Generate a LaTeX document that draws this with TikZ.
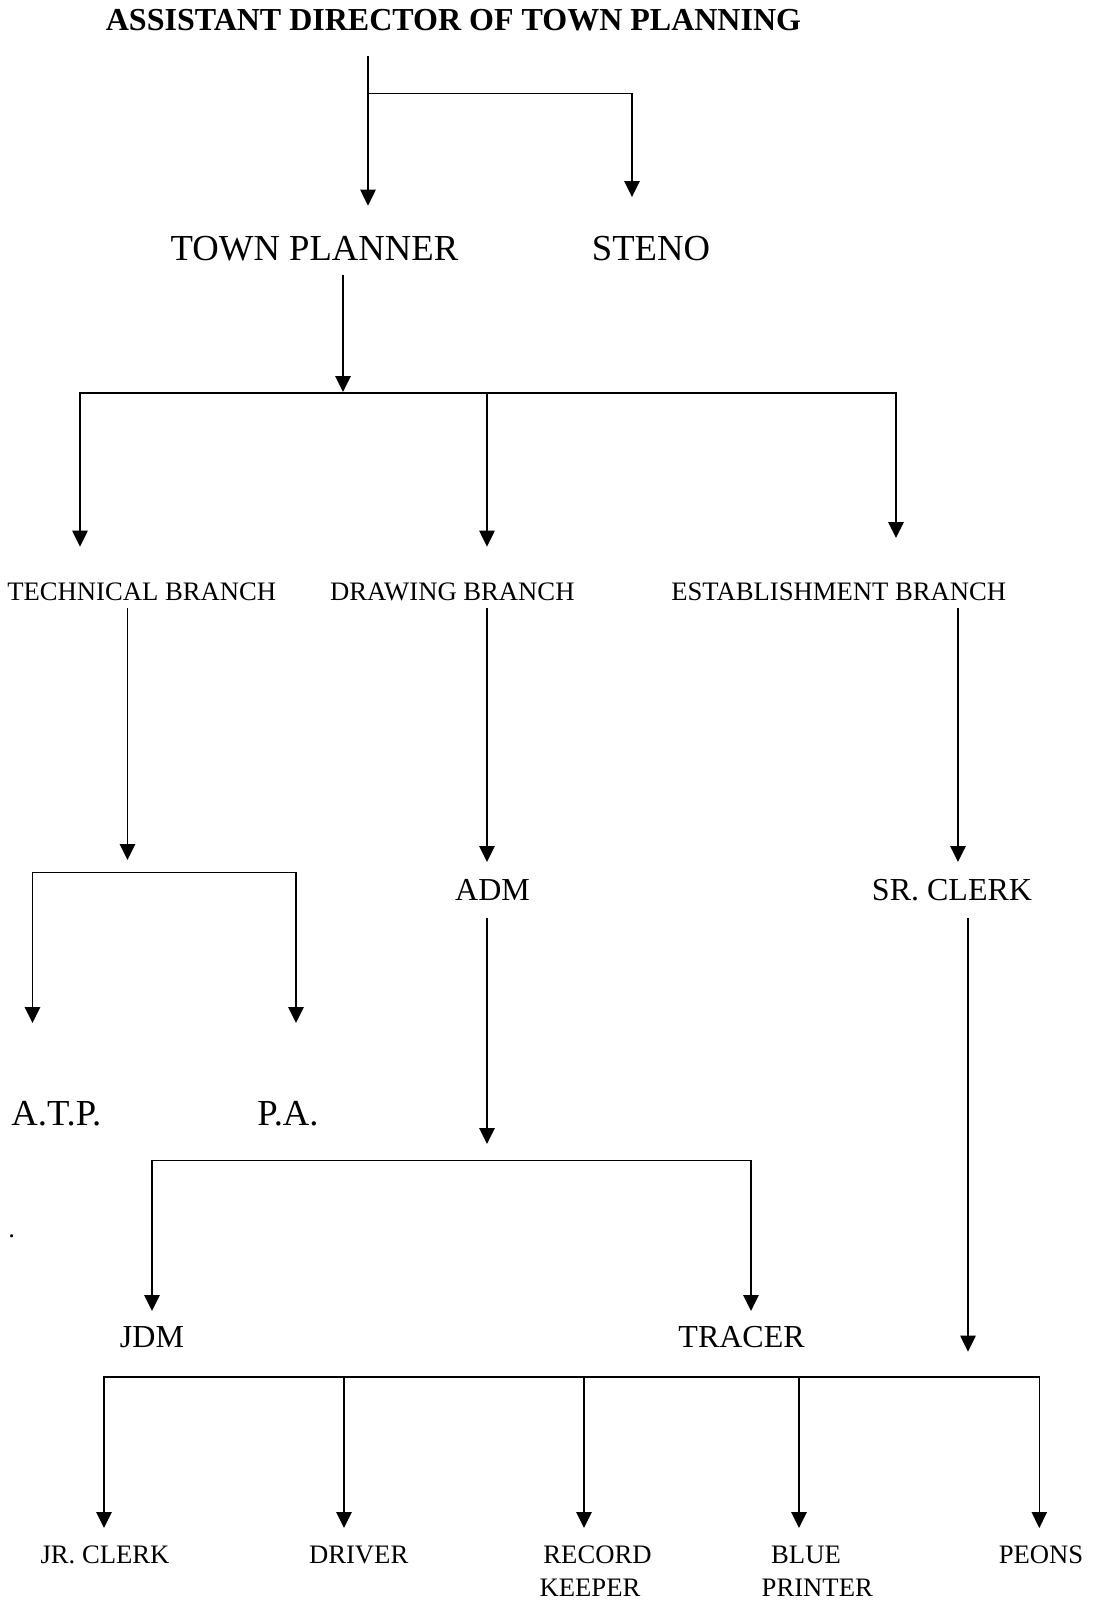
\documentclass[tikz,border=0pt]{standalone}
\usepackage{fontspec}
\setmainfont{Liberation Serif}
\usetikzlibrary{arrows.meta}
\begin{document}
\begin{tikzpicture}[x=0.75pt,y=-0.75pt,
  lbl/.style={inner sep=0pt, outer sep=0pt, anchor=base},
  ttl/.style={lbl, font=\fontsize{24}{28}\selectfont\bfseries},
  big/.style={lbl, font=\fontsize{27.5}{32}\selectfont},
  mid/.style={lbl, font=\fontsize{24}{28}\selectfont},
  sml/.style={lbl, font=\fontsize{20}{24}\selectfont},
  conn/.style={line width=1.2pt},
  arr/.style={conn, -{Triangle[length=12pt,width=11.5pt]}}]
\useasboundingbox (0,0) rectangle (1094,1600);

% labels
\node[ttl] (adtp) at (453.5,30) {ASSISTANT DIRECTOR OF TOWN PLANNING};
\node[big] (tp) at (314.5,260) {TOWN PLANNER};
\node[big] (steno) at (651,260) {STENO};
\node[sml] (tech) at (141.7,600) {TECHNICAL BRANCH};
\node[sml] (drw) at (452.3,600) {DRAWING BRANCH};
\node[sml] (est) at (838.8,600) {ESTABLISHMENT BRANCH};
\node[mid] (adm) at (492.5,900) {ADM};
\node[mid] (src) at (952,900) {SR. CLERK};
\node[big] (atp) at (56.4,1125) {A.T.P.};
\node[big] (pa) at (288,1125) {P.A.};
\node[sml] (dot) at (11.7,1237) {.};
\node[mid] (jdm) at (152,1347.5) {JDM};
\node[mid] (tracer) at (741.6,1347.5) {TRACER};
\node[sml] (jrc) at (105,1563) {JR. CLERK};
\node[sml] (driver) at (358.7,1563) {DRIVER};
\node[sml] (recA) at (597.5,1563) {RECORD};
\node[sml] (recB) at (590,1596.5) {KEEPER};
\node[sml] (blueA) at (806,1563) {BLUE};
\node[sml] (blueB) at (817.3,1596.5) {PRINTER};
\node[sml] (peons) at (1041,1563) {PEONS};

% connector points
\coordinate (a0) at (368,56);
\coordinate (a1) at (368,205.7);
\coordinate (aj) at (368,93.3);
\coordinate (sTip) at (632,197);

\coordinate (t0) at (343,275);
\coordinate (t1) at (343,392);
\coordinate (bM) at (487,393);
\coordinate (techTip) at (80,546.7);
\coordinate (drwTip) at (487,546.7);
\coordinate (estTip) at (896,538);

\coordinate (te0) at (127.5,608);
\coordinate (te1) at (127.5,860);
\coordinate (tj) at (127.5,872.3);
\coordinate (atpTip) at (32.5,1023);
\coordinate (paTip) at (296,1023);

\coordinate (d0) at (487,608);
\coordinate (d1) at (487,862);
\coordinate (e0) at (958,608);
\coordinate (e1) at (958,862);

\coordinate (ad0) at (487,918);
\coordinate (ad1) at (487,1144);
\coordinate (adj) at (487,1160.5);
\coordinate (jdmTip) at (152,1311);
\coordinate (trTip) at (751,1311);

\coordinate (sr0) at (968,918);
\coordinate (sr1) at (968,1351.7);

\coordinate (bb) at (584,1376.7);
\coordinate (bb2) at (344,1376.7);
\coordinate (bb4) at (799,1376.7);
\coordinate (jrTip) at (104,1528);
\coordinate (drTip) at (344,1528);
\coordinate (reTip) at (584,1528);
\coordinate (blTip) at (799,1528);
\coordinate (peTip) at (1039.3,1528);

% connectors
\draw[arr] (a0) -- (a1);
\draw[arr] (aj) -| (sTip);

\draw[arr] (t0) -- (t1);
\draw[arr] (bM) -| (techTip);
\draw[arr] (bM) -- (drwTip);
\draw[arr] (bM) -| (estTip);

\draw[arr] (te0) -- (te1);
\draw[arr] (tj) -| (atpTip);
\draw[arr] (tj) -| (paTip);

\draw[arr] (d0) -- (d1);
\draw[arr] (e0) -- (e1);

\draw[arr] (ad0) -- (ad1);
\draw[arr] (adj) -| (jdmTip);
\draw[arr] (adj) -| (trTip);

\draw[arr] (sr0) -- (sr1);

\draw[arr] (bb) -| (jrTip);
\draw[arr] (bb) -| (peTip);
\draw[arr] (bb2) -- (drTip);
\draw[arr] (bb) -- (reTip);
\draw[arr] (bb4) -- (blTip);
\end{tikzpicture}
\end{document}
